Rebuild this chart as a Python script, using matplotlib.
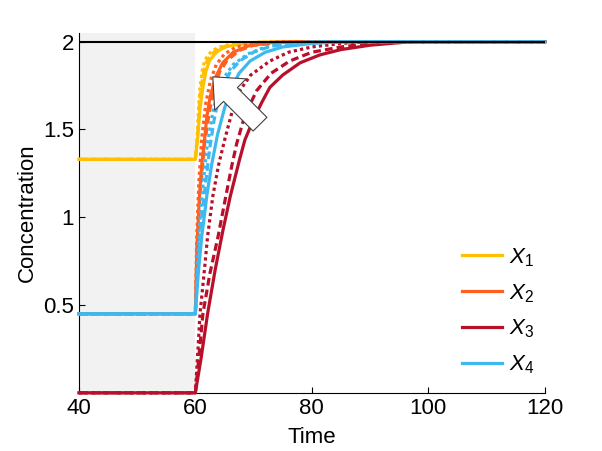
import matplotlib
matplotlib.use('Agg')
import matplotlib.pyplot as plt

plt.rcParams['font.family'] = ['Liberation Sans', 'DejaVu Sans']
plt.rcParams['mathtext.fontset'] = 'custom'
plt.rcParams['mathtext.it'] = 'Liberation Sans:italic'
plt.rcParams['mathtext.rm'] = 'Liberation Sans'

# (time, concentration) points, step input at t=60

# X1 (yellow), starts at 1.33
x1_solid  = [(40, 1.33), (60, 1.33), (60.4, 1.45), (60.8, 1.62), (61.3, 1.74), (61.8, 1.83), (62.4, 1.89),
             (63.2, 1.925), (64, 1.95), (65.2, 1.97), (66.5, 1.98), (70, 1.995), (76, 2), (120, 2)]
x1_dashed = [(40, 1.33), (60, 1.33), (60.35, 1.45), (60.7, 1.64), (61.0, 1.74), (61.5, 1.84), (62.0, 1.89),
             (62.7, 1.925), (63.5, 1.95), (64.7, 1.97), (66, 1.98), (70, 1.995), (75, 2), (120, 2)]
x1_dotted = [(40, 1.33), (60, 1.33), (60.3, 1.45), (60.55, 1.62), (60.8, 1.74), (61.2, 1.84), (61.6, 1.89),
             (62.2, 1.925), (63, 1.95), (64, 1.968), (65.4, 1.98), (70, 1.995), (75, 2), (120, 2)]

# X2 (orange), starts at 0.45
x2_solid  = [(40, 0.45), (60, 0.45), (60.3, 0.85), (60.7, 1.12), (61.1, 1.30), (61.6, 1.45), (62, 1.58),
             (62.5, 1.68), (63.5, 1.80), (64.7, 1.88), (66.5, 1.94), (69, 1.975), (73, 1.995), (78, 2), (120, 2)]
x2_dashed = [(40, 0.45), (60, 0.45), (60.3, 0.82), (60.8, 1.12), (61.2, 1.28), (61.6, 1.42), (62.4, 1.60),
             (63.3, 1.74), (64.2, 1.83), (65.4, 1.89), (67.5, 1.95), (70, 1.98), (75, 1.995), (80, 2), (120, 2)]
x2_dotted = [(40, 0.45), (60, 0.45), (60.25, 0.90), (60.6, 1.20), (61.1, 1.45), (61.8, 1.65), (62.6, 1.78),
             (63.6, 1.87), (65, 1.93), (67, 1.97), (70, 1.99), (75, 2), (120, 2)]

# X3 (red), starts at 0
x3_solid  = [(40, 0), (60, 0), (61, 0.20), (62.1, 0.45), (63.4, 0.70), (64.7, 0.92), (66, 1.12), (67.6, 1.33),
             (68.5, 1.44), (70, 1.56), (71.5, 1.66), (72.8, 1.74), (75, 1.81), (78, 1.88), (81.4, 1.925),
             (85, 1.955), (90, 1.98), (97, 2.0), (120, 2.0)]
x3_dashed = [(40, 0), (60, 0), (60.6, 0.20), (61.3, 0.45), (62.5, 0.68), (63.9, 0.89), (65, 1.08), (66.3, 1.30),
             (67.1, 1.42), (68.5, 1.58), (70.5, 1.72), (73, 1.82), (76.2, 1.89), (80, 1.94), (85, 1.97),
             (90, 1.99), (95, 2.0), (120, 2)]
x3_dotted = [(40, 0), (60, 0), (60.4, 0.22), (60.8, 0.45), (61.5, 0.68), (62.1, 0.89), (63, 1.12), (64, 1.30),
             (65.1, 1.45), (66.3, 1.60), (67.6, 1.72), (69.5, 1.81), (72.8, 1.89), (76, 1.94), (80, 1.97),
             (85, 1.99), (90, 2.0), (120, 2)]

# X4 (blue), starts at 0.45
x4_solid  = [(40, 0.45), (60, 0.45), (60.5, 0.68), (61.1, 0.89), (62, 1.13), (62.8, 1.30), (63.8, 1.47),
             (65, 1.62), (65.9, 1.71), (67.5, 1.82), (69.4, 1.89), (72, 1.94), (75, 1.97), (80, 1.99),
             (85, 2.0), (120, 2)]
x4_dashed = [(40, 0.45), (60, 0.45), (60.4, 0.70), (60.9, 0.92), (61.6, 1.15), (62.5, 1.40), (63.2, 1.55),
             (63.9, 1.66), (65, 1.76), (66, 1.83), (67.6, 1.89), (70, 1.94), (73, 1.975), (78, 1.995),
             (82, 2), (120, 2)]
x4_dotted = [(40, 0.45), (60, 0.45), (60.3, 0.72), (60.7, 0.95), (61.3, 1.18), (62, 1.40), (63, 1.60),
             (64, 1.72), (65, 1.80), (66.5, 1.87), (69, 1.93), (72, 1.97), (76, 1.99), (80, 2), (120, 2)]

labels = ['$\\mathit{X_1}$', '$\\mathit{X_2}$', '$\\mathit{X_3}$', '$\\mathit{X_4}$']
colors = ['#FFC000', '#FF5F1F', '#B8102A', '#3DB9EF']
series = [
    (x1_solid, x1_dashed, x1_dotted),
    (x2_solid, x2_dashed, x2_dotted),
    (x3_solid, x3_dashed, x3_dotted),
    (x4_solid, x4_dashed, x4_dotted),
]
styles = ['-', (0, (2.4, 1.3)), (0, (1, 1))]

fig = plt.figure(figsize=(6.02, 4.51), dpi=100)
ax = fig.add_axes([0.131, 0.129, 0.774, 0.798])

# shaded pre-stimulus window
ax.axvspan(40, 60, color='#F2F2F2', zorder=0, lw=0)

handles = []
for curves, c, lab in zip(series, colors, labels):
    for pts, ls in zip(curves, styles):
        tt, vv = zip(*pts)
        h, = ax.plot(tt, vv, color=c, lw=2.3, ls=ls, zorder=3, clip_on=False)
        if ls == '-':
            h.set_label(lab)
            handles.append(h)

ax.axhline(2, color='black', lw=1.5, zorder=4)

ax.annotate('', xy=(63.0, 1.80), xytext=(71.1, 1.53),
            arrowprops=dict(arrowstyle='simple,head_width=1.6,head_length=0.9,tail_width=0.7',
                            fc='white', ec='#404040', lw=0.8, mutation_scale=20,
                            shrinkA=0, shrinkB=0),
            zorder=5)

ax.set_xlim(40, 120)
ax.set_ylim(0, 2.05)
ax.set_xticks([40, 60, 80, 100, 120])
ax.set_yticks([0.5, 1, 1.5, 2])
ax.set_yticklabels(['0.5', '1', '1.5', '2'])
ax.tick_params(direction='in', labelsize=16, length=4)
ax.spines['top'].set_visible(False)
ax.spines['right'].set_visible(False)
ax.set_xlabel('Time', fontsize=16, labelpad=6)
ax.set_ylabel('Concentration', fontsize=16, labelpad=4)

ax.legend(handles=handles, loc='lower right', frameon=False, fontsize=16,
          handlelength=1.8, handletextpad=0.3, labelspacing=0.6,
          bbox_to_anchor=(1.02, -0.01))

fig.savefig('out.png', dpi=100)
